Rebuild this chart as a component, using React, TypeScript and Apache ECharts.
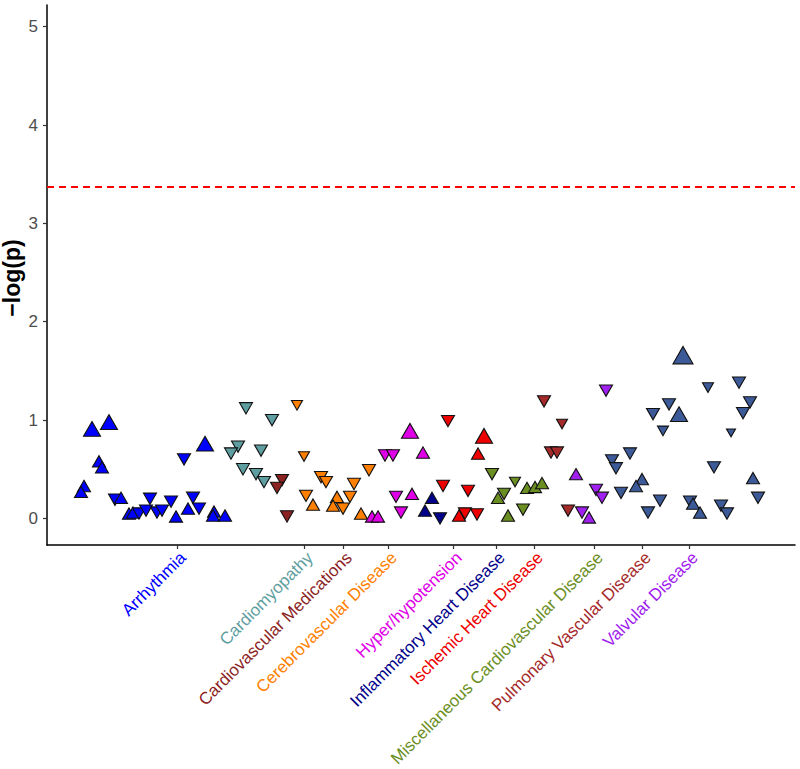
import React, { useEffect, useRef } from "react";
import * as echarts from "echarts";

// Category labels, colours and the x positions of their ticks (phenotype index units)
const categoryNames = [
  "Arrhythmia",
  "Cardiomyopathy",
  "Cardiovascular Medications",
  "Cerebrovascular Disease",
  "Hyper/hypotension",
  "Inflammatory Heart Disease",
  "Ischemic Heart Disease",
  "Miscellaneous Cardiovascular Disease",
  "Pulmonary Vascular Disease",
  "Valvular Disease",
];
const categoryColors = [
  "#0000FF",
  "#5F9EA0",
  "#8B2323",
  "#FF7F00",
  "#E000E8",
  "#00008B",
  "#EE0000",
  "#6B8E23",
  "#A52A2A",
  "#A020F0",
];
const tickPositions = [26.0, 51.4, 59.2, 68.2, 81.2, 89.8, 97.4, 109.4, 119.0, 128.4];
const otherColor = "#3D5A98";

const yTicks = [0, 1, 2, 3, 4, 5];
const yTitle = "\u2212log(p)";
const threshold = 3.37;

// [x, -log(p), direction (1 up, -1 down), sample size class]
const arrhythmia = [
  [9.0, 0.91, 1, 4], [12.4, 0.98, 1, 4], [10.4, 0.58, 1, 3], [11.0, 0.52, 1, 3],
  [7.4, 0.33, 1, 3], [6.8, 0.27, 1, 3], [13.6, 0.19, -1, 3], [14.8, 0.21, 1, 3],
  [16.4, 0.05, 1, 3], [17.2, 0.06, 1, 3], [18.4, 0.05, -1, 3], [19.8, 0.08, -1, 3],
  [20.6, 0.2, -1, 3], [22.0, 0.06, -1, 3], [23.0, 0.08, -1, 3], [24.8, 0.17, -1, 3],
  [25.8, 0.02, 1, 3], [28.2, 0.1, 1, 3], [29.2, 0.21, -1, 3], [30.4, 0.1, -1, 3],
  [27.4, 0.6, -1, 3], [31.6, 0.76, 1, 4], [33.4, 0.07, 1, 3], [33.2, 0.03, 1, 3],
  [35.6, 0.03, 1, 3],
];
const cardiomyopathy = [
  [39.8, 1.12, -1, 3], [45.0, 1.0, -1, 3], [38.2, 0.73, -1, 3], [36.8, 0.66, -1, 3],
  [42.8, 0.69, -1, 3], [39.2, 0.5, -1, 3], [41.8, 0.45, -1, 3], [43.4, 0.37, -1, 3],
];
const cvMedications = [
  [47.0, 0.39, -1, 3], [46.0, 0.31, -1, 3], [48.0, 0.02, -1, 3],
];
const cerebrovascular = [
  [50.0, 1.15, -1, 2], [51.4, 0.63, -1, 2], [54.8, 0.42, -1, 3], [55.8, 0.37, -1, 3],
  [51.8, 0.23, -1, 3], [53.2, 0.14, 1, 3], [58.0, 0.22, 1, 3], [57.2, 0.13, 1, 3],
  [59.2, 0.1, -1, 3], [60.6, 0.22, -1, 3], [61.4, 0.35, -1, 3], [64.4, 0.49, -1, 3],
  [62.8, 0.05, 1, 3],
];
const hyperHypotension = [
  [72.6, 0.89, 1, 4], [67.6, 0.64, -1, 3], [69.2, 0.64, -1, 3], [75.2, 0.67, 1, 3],
  [69.8, 0.22, -1, 3], [73.0, 0.25, 1, 3], [70.8, 0.06, -1, 3], [65.0, 0.02, 1, 3],
  [66.2, 0.02, 1, 3],
];
const inflammatory = [
  [77.0, 0.21, 1, 3], [75.6, 0.08, 1, 3], [78.6, 0.0, -1, 3],
];
const ischemic = [
  [80.2, 0.99, -1, 3], [87.4, 0.84, 1, 4], [86.2, 0.66, 1, 3], [79.2, 0.33, -1, 3],
  [84.2, 0.28, -1, 3], [82.4, 0.03, 1, 3], [83.6, 0.05, -1, 3], [86.0, 0.04, -1, 3],
];
const miscellaneous = [
  [89.0, 0.45, -1, 3], [93.6, 0.37, -1, 2], [90.2, 0.21, 1, 3], [91.4, 0.25, -1, 3],
  [96.0, 0.31, 1, 3], [97.6, 0.32, 1, 3], [99.0, 0.36, 1, 3], [95.2, 0.09, -1, 3],
  [92.2, 0.03, 1, 3],
];
const pulmonary = [
  [99.4, 1.19, -1, 3], [103.0, 0.96, -1, 2], [100.8, 0.67, -1, 3], [102.0, 0.67, -1, 3],
  [104.2, 0.08, -1, 3],
];
const valvular = [
  [111.8, 1.3, -1, 3], [105.8, 0.45, 1, 3], [109.8, 0.29, -1, 3], [111.0, 0.21, -1, 3],
  [107.0, 0.06, -1, 3], [108.4, 0.01, 1, 3],
];
const otherPhenotypes = [
  [127.2, 1.66, 1, 5], [132.2, 1.33, -1, 2], [138.4, 1.38, -1, 3], [124.4, 1.16, -1, 3],
  [121.2, 1.06, -1, 3], [126.4, 1.06, 1, 4], [123.2, 0.89, -1, 2], [140.6, 1.18, -1, 3],
  [139.2, 1.07, -1, 3], [136.8, 0.87, -1, 1], [113.0, 0.59, -1, 3], [113.8, 0.51, -1, 3],
  [116.6, 0.66, -1, 3], [119.0, 0.4, 1, 3], [117.8, 0.33, 1, 3], [114.8, 0.26, -1, 3],
  [122.6, 0.18, -1, 3], [120.2, 0.06, -1, 3], [128.6, 0.17, -1, 3], [129.2, 0.15, 1, 3],
  [130.6, 0.06, 1, 3], [133.4, 0.52, -1, 3], [134.8, 0.13, -1, 3], [136.0, 0.05, -1, 3],
  [141.2, 0.41, 1, 3], [142.2, 0.21, -1, 3],
];

const groups = [
  arrhythmia, cardiomyopathy, cvMedications, cerebrovascular, hyperHypotension,
  inflammatory, ischemic, miscellaneous, pulmonary, valvular, otherPhenotypes,
];

const sizeForClass = (c: number) => ({ 1: 9, 2: 11, 3: 13, 4: 17, 5: 20 } as any)[c] || 13;

export default function App() {
  const ref = useRef<HTMLDivElement>(null);
  useEffect(() => {
    if (!ref.current) return;
    const chart = echarts.init(ref.current, null, { renderer: "svg" });
    const rich: any = {};
    categoryNames.forEach((_, i) => {
      rich["c" + i] = {
        color: categoryColors[i],
        fontSize: 17,
        fontFamily: "Liberation Sans, Arial, sans-serif",
      };
    });
    const series: any[] = groups.map((g, gi) => {
      const color = gi < categoryColors.length ? categoryColors[gi] : otherColor;
      return {
        type: "scatter",
        name: gi < categoryNames.length ? categoryNames[gi] : "Other",
        data: g.map((p) => {
          const w = sizeForClass(p[3]);
          return {
            value: [p[0], p[1]],
            symbol: "triangle",
            symbolSize: [w, w * 0.87],
            symbolRotate: p[2] > 0 ? 0 : 180,
          };
        }),
        itemStyle: { color, borderColor: "#111", borderWidth: 1.1, opacity: 1 },
        emphasis: { disabled: true },
        z: 3,
      };
    });
    series.push({
      type: "scatter",
      data: [],
      markLine: {
        silent: true,
        symbol: ["none", "none"],
        label: { show: false },
        lineStyle: { color: "#FF0000", type: [7, 5], width: 1.8 },
        data: [{ yAxis: threshold }],
      },
    });
    chart.setOption({
      animation: false,
      backgroundColor: "#fff",
      grid: {
        left: 47,
        right: 5,
        top: 5,
        bottom: 224,
        containLabel: false,
        outerBoundsMode: "none",
      },
      graphic: [
        {
          type: "text",
          x: 12,
          y: 278,
          rotation: Math.PI / 2,
          style: {
            text: yTitle,
            fill: "#000",
            font: "bold 23px 'Liberation Sans', Arial, sans-serif",
            align: "center",
            verticalAlign: "middle",
          },
        },
      ],
      xAxis: {
        type: "value",
        min: 0,
        max: 149.6,
        splitLine: { show: false },
        axisLine: { show: true, onZero: false, lineStyle: { color: "#000", width: 1.5 } },
        axisTick: {
          show: true,
          length: 4,
          customValues: tickPositions,
          lineStyle: { color: "#333", width: 1.2 },
        },
        axisLabel: {
          show: true,
          rotate: 45,
          margin: 4,
          verticalAlign: "top",
          align: "right",
          customValues: tickPositions,
          hideOverlap: false,
          formatter: (v: number) => {
            const i = tickPositions.findIndex((t) => Math.abs(t - v) < 0.01);
            return i >= 0 ? `{c${i}|${categoryNames[i]}}` : "";
          },
          rich,
        },
      },
      yAxis: {
        type: "value",
        min: -0.27,
        max: 5.22,
        splitLine: { show: false },
        axisLine: { show: true, onZero: false, lineStyle: { color: "#000", width: 1.5 } },
        axisTick: {
          show: true,
          length: 4,
          customValues: yTicks,
          lineStyle: { color: "#333", width: 1.2 },
        },
        axisLabel: {
          show: true,
          customValues: yTicks,
          margin: 9,
          color: "#4D4D4D",
          fontSize: 17,
          fontFamily: "Liberation Sans, Arial, sans-serif",
        },
      },
      series,
    });
    return () => chart.dispose();
  }, []);
  return (
    <div
      ref={ref}
      style={{ position: "absolute", left: 0, top: 0, width: 800, height: 769 }}
    />
  );
}
